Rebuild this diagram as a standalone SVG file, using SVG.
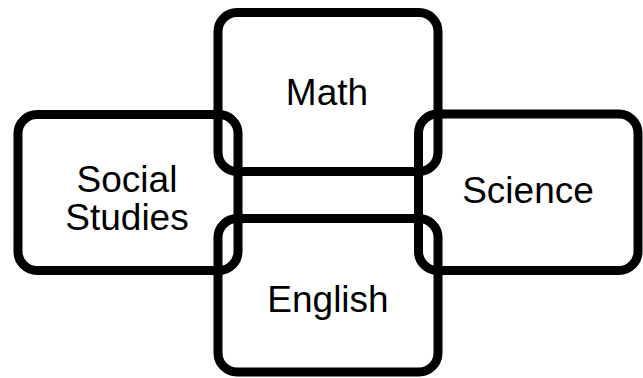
<svg xmlns="http://www.w3.org/2000/svg" width="643" height="378" viewBox="0 0 643 378">
<style>
.box{fill:none;stroke:#000;stroke-width:9}
.lbl{font-family:"Liberation Sans",Arial,sans-serif;font-size:37px;fill:#000;text-anchor:middle}
</style>
<rect width="643" height="378" fill="#fff"/>
<g id="math"><rect class="box" x="218" y="12.5" width="220" height="159" rx="19"/><text class="lbl" x="327" y="105">Math</text></g>
<g id="social-studies"><rect class="box" x="18" y="114.5" width="220" height="156" rx="19"/><text class="lbl" x="127" y="192">Social</text><text class="lbl" x="127" y="230">Studies</text></g>
<g id="science"><rect class="box" x="418.5" y="114" width="219.5" height="156.5" rx="19"/><text class="lbl" x="528" y="203">Science</text></g>
<g id="english"><rect class="box" x="218" y="218.5" width="220" height="153.5" rx="19"/><text class="lbl" x="328" y="312">English</text></g>
<g id="connectors"/>
</svg>
